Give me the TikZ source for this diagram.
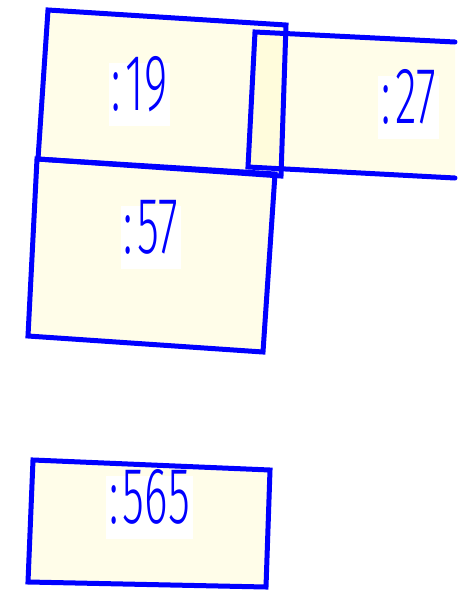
\documentclass[tikz,border=0pt]{standalone}
\usepackage{fontspec}
\usepackage{tikz}
\usepackage{graphicx}
\usetikzlibrary{positioning}
\newfontfamily\tagfont{Fira Sans Light}
\definecolor{padfill}{RGB}{255,250,200}
\tikzstyle{padfill} = [fill=padfill, fill opacity=0.4]
\tikzstyle{edge} = [draw=blue, line width=5pt, line cap=round, line join=miter]
\tikzstyle{tag} = [fill=white, text=blue, inner xsep=3pt, inner ysep=0pt,
text height=47pt, text depth=16pt, anchor=base,
font=\tagfont\fontsize{80}{80}\selectfont]
\newcommand{\narrow}[1]{\scalebox{0.56}[1]{:\kern8pt#1}}

\begin{document}
\begin{tikzpicture}[x=1pt, y=-1pt]
	\useasboundingbox (0,0) rectangle (464,590);
	
	% Corners of the pads
	\coordinate (a1) at (48,10);  \coordinate (a2) at (286,25);
	\coordinate (a3) at (281,176); \coordinate (a4) at (38,159);
	\coordinate (b1) at (255,32); \coordinate (b2) at (455,42);
	\coordinate (b3) at (455,178); \coordinate (b4) at (248,167);
	\coordinate (c1) at (37,159); \coordinate (c2) at (275,174);
	\coordinate (c3) at (263,352); \coordinate (c4) at (28,336);
	\coordinate (d1) at (33,460); \coordinate (d2) at (270,470);
	\coordinate (d3) at (266,587); \coordinate (d4) at (28,582);
	
	% Pad fills
	\path [padfill] (a1) -- (a2) -- (a3) -- (a4) -- cycle;
	\path [padfill] (b1) -- (b2) -- (b3) -- (b4) -- cycle;
	\path [padfill] (c1) -- (c2) -- (c3) -- (c4) -- cycle;
	\path [padfill] (d1) -- (d2) -- (d3) -- (d4) -- cycle;
	
	% Pad outlines
	\path [edge] (a1) -- (a2) -- (a3) -- (a4) -- cycle;
	\path [edge] (b2) -- (b1) -- (b4) -- (b3);
	\path [edge] (c1) -- (c2) -- (c3) -- (c4) -- cycle;
	\path [edge] (d1) -- (d2) -- (d3) -- (d4) -- cycle;
	
	% Labels
	\node [tag] (t19) at (139.5,110) {\narrow{19}};
	\node [tag] (t27) at (408.5,123) {\narrow{27}};
	\node [tag] (t57) at (151,253) {\narrow{57}};
	\node [tag] (t565) at (149.5,523) {\narrow{565}};
	
\end{tikzpicture}
\end{document}
